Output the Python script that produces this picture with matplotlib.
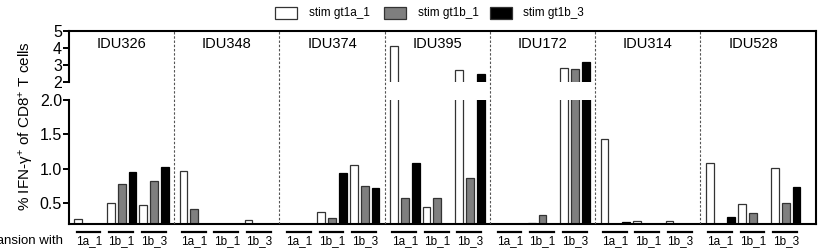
import matplotlib
matplotlib.use("Agg")
import matplotlib.pyplot as plt
from matplotlib.patches import Rectangle
from matplotlib.lines import Line2D
import numpy as np

plt.rcParams['font.family'] = ['Liberation Sans', 'DejaVu Sans']
plt.rcParams['mathtext.default'] = 'regular'

patients = ["IDU326", "IDU348", "IDU374", "IDU395", "IDU172", "IDU314", "IDU528"]
expansions = ["1a_1", "1b_1", "1b_3"]
series_names = ["stim gt1a_1", "stim gt1b_1", "stim gt1b_3"]

# values [patient][expansion]
stim_gt1a_1 = [[0.27, 0.51, 0.47],
               [0.97, 0.00, 0.26],
               [0.00, 0.37, 1.06],
               [4.10, 0.44, 2.70],
               [0.00, 0.22, 2.80],
               [1.43, 0.25, 0.25],
               [1.08, 0.49, 1.02]]
stim_gt1b_1 = [[0.00, 0.78, 0.82],
               [0.42, 0.00, 0.00],
               [0.00, 0.29, 0.75],
               [0.58, 0.58, 0.87],
               [0.00, 0.33, 2.75],
               [0.00, 0.00, 0.00],
               [0.00, 0.36, 0.50]]
stim_gt1b_3 = [[0.00, 0.96, 1.03],
               [0.00, 0.00, 0.00],
               [0.00, 0.94, 0.72],
               [1.08, 0.00, 2.50],
               [0.00, 0.00, 3.20],
               [0.23, 0.00, 0.00],
               [0.30, 0.00, 0.73]]

upper_ticks = [2, 3, 4, 5]
lower_ticks = [0.5, 1.0, 1.5, 2.0]

series = [stim_gt1a_1, stim_gt1b_1, stim_gt1b_3]
faces = ["white", "#7f7f7f", "black"]
edges = ["#333333", "#333333", "black"]

W = 9.7      # width of one patient group in x units
OFF = 0.85   # offset of first bar within group
XMAX = 7 * W + 0.95

fig = plt.figure(figsize=(8.24, 2.5), dpi=100)
H = 250.0
X0, X1 = 69, 816
def fx(px):
    return px / 824.0
axU = fig.add_axes([fx(X0), (H - 82) / H, fx(X1 - X0), 51 / H])
axL = fig.add_axes([fx(X0), (H - 224) / H, fx(X1 - X0), 124 / H])
axO = fig.add_axes([fx(X0), (H - 224) / H, fx(X1 - X0), 193 / H], facecolor='none')

for ax in (axU, axL):
    for s, vals in enumerate(series):
        xs, hs = [], []
        for p in range(len(patients)):
            for e in range(len(expansions)):
                xs.append(p * W + OFF + e * 3 + s)
                hs.append(vals[p][e])
        ax.bar(xs, hs, width=0.72, color=faces[s], edgecolor=edges[s], linewidth=0.9, zorder=2)
    ax.set_xlim(0, XMAX)
    ax.set_xticks([])
    ax.spines['right'].set_visible(False)
    for sp in ax.spines.values():
        sp.set_linewidth(1.5)
    ax.tick_params(axis='y', direction='out', length=4, width=1.4, labelsize=11.5, pad=1)

axU.set_ylim(2, 5)
axU.set_yticks(upper_ticks)
axU.set_yticklabels([str(t) for t in upper_ticks])
axU.spines['bottom'].set_visible(False)

axL.set_ylim(0.2, 2.0)
axL.set_yticks(lower_ticks)
axL.set_yticklabels([f"{t:.1f}" for t in lower_ticks])
axL.spines['top'].set_visible(False)

# overlay: dividers, right frame
axO.set_xlim(0, XMAX)
axO.set_ylim(0, 1)
axO.set_xticks([]); axO.set_yticks([])
for k, sp in axO.spines.items():
    sp.set_visible(k == 'right')
axO.spines['right'].set_linewidth(1.5)
for p in range(1, len(patients)):
    axO.axvline(p * W, color='#555555', lw=0.8, ls=(0, (2.2, 1.6)))

# group labels
for p, name in enumerate(patients):
    axU.text(p * W + W / 2, 0.74, name, transform=axU.get_xaxis_transform(),
             ha='center', va='center', fontsize=10.5)

# expansion underlines and labels
trL = axL.get_xaxis_transform()
for p in range(len(patients)):
    for e, lab in enumerate(expansions):
        c = p * W + OFF + e * 3 + 1
        axL.add_line(Line2D([c - 1.15, c + 1.05], [-0.065, -0.065], transform=trL,
                            color='black', lw=1.6, clip_on=False))
        axL.text(c, -0.14, lab, transform=trL, ha='center', va='center', fontsize=8.5)

fig.text(fx(63), (H - 241) / H, "Expansion with", ha='right', va='center', fontsize=9.5)

# y label
fig.text(fx(26), (H - 126) / H, "% IFN-γ$^{+}$ of CD8$^{+}$ T cells", rotation=90,
         ha='center', va='center', fontsize=11)

# legend
for (bx, tx), name, fc, ec in zip([(275, 309), (384, 418), (490, 523)], series_names, faces, edges):
    fig.patches.append(Rectangle((fx(bx), (H - 19) / H), fx(22), 12 / H, transform=fig.transFigure,
                                 facecolor=fc, edgecolor='#333333', lw=0.9))
    fig.text(fx(tx), (H - 13) / H, name, ha='left', va='center', fontsize=8.5)

fig.savefig("out.png", dpi=100)
